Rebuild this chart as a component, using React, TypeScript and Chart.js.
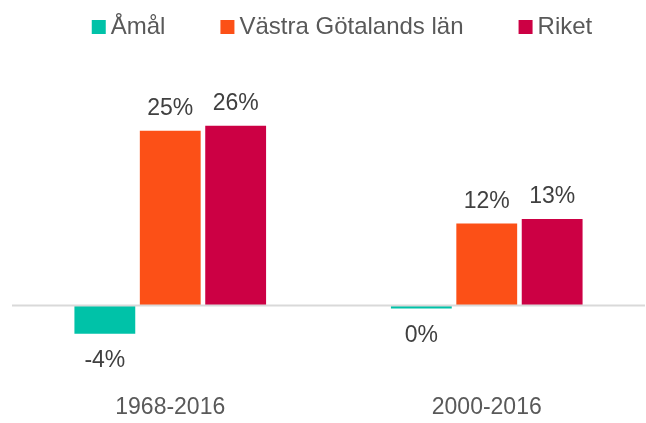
import React, { useEffect, useRef } from "react";
import { Chart, registerables } from "chart.js";

Chart.register(...registerables);

const categories = ["1968-2016", "2000-2016"];
const seriesNames = ["Åmål", "Västra Götalands län", "Riket"];
const amal = [-4.1, -0.45];
const vastra = [25.4, 11.9];
const riket = [26.1, 12.55];
const colors = ["#00C2A8", "#FC5017", "#CC0044"];

const FONT = "'Liberation Sans', Arial, sans-serif";

const zeroLinePlugin = {
  id: "zeroLine",
  afterDatasetsDraw(chart: any) {
    const { ctx, chartArea, scales } = chart;
    const y = scales.y.getPixelForValue(0);
    ctx.save();
    ctx.strokeStyle = "#D9D9D9";
    ctx.lineWidth = 2;
    ctx.beginPath();
    ctx.moveTo(chartArea.left, y);
    ctx.lineTo(chartArea.right, y);
    ctx.stroke();
    ctx.restore();
  },
};

const dataLabelPlugin = {
  id: "dataLabels",
  afterDraw(chart: any) {
    const { ctx } = chart;
    ctx.save();
    ctx.font = `23px ${FONT}`;
    ctx.fillStyle = "#404040";
    ctx.textAlign = "center";
    ctx.textBaseline = "alphabetic";
    chart.data.datasets.forEach((ds: any, i: number) => {
      const meta = chart.getDatasetMeta(i);
      meta.data.forEach((bar: any, j: number) => {
        const v = ds.data[j];
        const r = Math.round(v);
        const txt = (r === 0 ? 0 : r) + "%";
        if (v >= 0) {
          ctx.fillText(txt, bar.x, bar.y - 16);
        } else {
          ctx.fillText(txt, bar.x, bar.y + 33.5);
        }
      });
    });
    ctx.restore();
  },
};

const legendPlugin = {
  id: "customLegend",
  afterDraw(chart: any) {
    const { ctx } = chart;
    ctx.save();
    ctx.font = `24px ${FONT}`;
    ctx.textBaseline = "alphabetic";
    ctx.textAlign = "left";
    const box = 14;
    const boxGap = 5;
    const itemGap = 55;
    const widths = seriesNames.map((n) => ctx.measureText(n).width);
    const total =
      widths.reduce((a, w) => a + box + boxGap + w, 0) + itemGap * (seriesNames.length - 1);
    let x = 342 - total / 2;
    seriesNames.forEach((n, i) => {
      ctx.fillStyle = colors[i];
      ctx.fillRect(x, 20, box, box);
      ctx.fillStyle = "#595959";
      ctx.fillText(n, x + box + boxGap, 34);
      x += box + boxGap + widths[i] + itemGap;
    });
    ctx.restore();
  },
};

export default function App() {
  const ref = useRef<HTMLCanvasElement>(null);
  useEffect(() => {
    if (!ref.current) return;
    const chart = new Chart(ref.current, {
      type: "bar",
      data: {
        labels: categories,
        datasets: [amal, vastra, riket].map((d, i) => ({
          label: seriesNames[i],
          data: d,
          backgroundColor: colors[i],
          borderWidth: 0,
          categoryPercentage: 0.62,
          barPercentage: 0.93,
        })),
      },
      options: {
        responsive: false,
        animation: false,
        maintainAspectRatio: false,
        layout: { padding: { left: 12, right: 1, top: 99, bottom: 0 } },
        plugins: {
          legend: { display: false },
          tooltip: { enabled: false },
        },
        scales: {
          x: {
            grid: { display: false, drawTicks: false },
            border: { display: false },
            ticks: {
              color: "#595959",
              font: { family: FONT, size: 23 },
              padding: 20,
            },
            afterFit(scale: any) {
              scale.height = 48.7;
            },
          },
          y: {
            display: false,
            min: -10,
            max: 30,
          },
        },
      },
      plugins: [zeroLinePlugin, dataLabelPlugin, legendPlugin],
    });
    return () => chart.destroy();
  }, []);
  return (
    <div style={{ position: "fixed", left: 0, top: 0, width: 646, height: 423, background: "#fff" }}>
      <canvas ref={ref} width={646} height={423} style={{ display: "block" }} />
    </div>
  );
}
